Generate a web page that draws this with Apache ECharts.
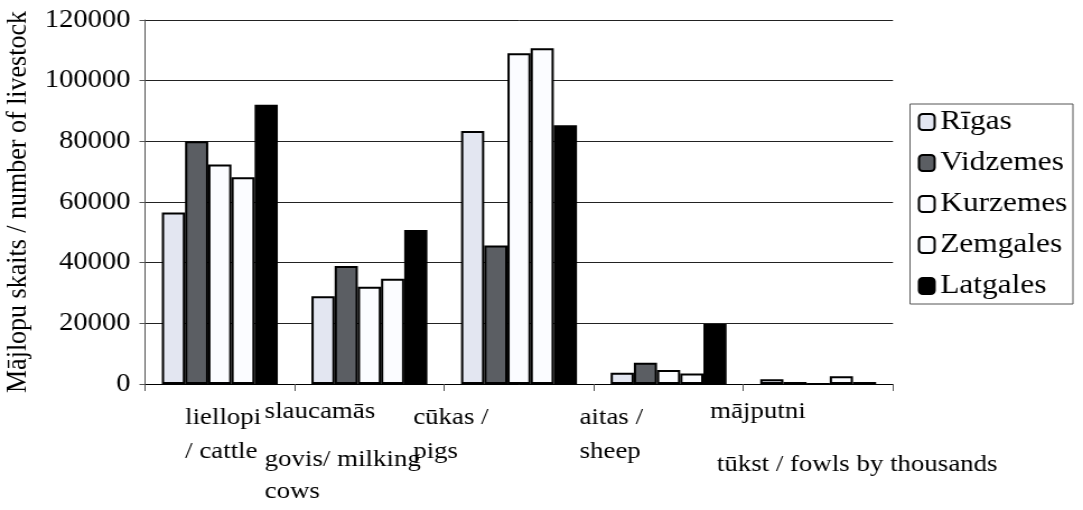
<!DOCTYPE html>
<html>
<head>
<meta charset="utf-8">
<script src="https://cdn.jsdelivr.net/npm/echarts@6/dist/echarts.min.js"></script>
<style>
  html, body { margin: 0; padding: 0; background: #fff; overflow: hidden; }
  /* the reference picture is stretched horizontally by ~12% */
  #chart { width: 967px; height: 510px; transform: scaleX(1.12); transform-origin: 0 0; }
</style>
</head>
<body>
<div id="chart"></div>
<script>
// ---- data ----
const categories = ['liellopi', 'slaucamās', 'cūkas', 'aitas', 'mājputni'];
const categoryLines = [
  ['liellopi', '/ cattle'],
  ['slaucamās', 'govis/ milking', 'cows'],
  ['cūkas /', 'pigs'],
  ['aitas /', 'sheep'],
  ['mājputni', ' tūkst / fowls by thousands']
];
const seriesNames = ['Rīgas', 'Vidzemes', 'Kurzemes', 'Zemgales', 'Latgales'];
const rigas    = [56500, 28900, 83400, 3700, 1550];
const vidzemes = [80000, 38900, 45700, 7000, 660];
const kurzemes = [72400, 32100, 109000, 4600, 0];
const zemgales = [68200, 34700, 110700, 3500, 2540];
const latgales = [92100, 50800, 85300, 19800, 660];
const yTicks = [0, 20000, 40000, 60000, 80000, 100000, 120000];
const yAxisTitle = 'Mājlopu skaits / number of livestock';

const seriesValues = [rigas, vidzemes, kurzemes, zemgales, latgales];
const seriesColors = ['#e3e6f1', '#5b5e63', '#fbfcff', '#fbfcff', '#000000'];

const FONT = 'Liberation Serif';

// rich styles per category (label line layout)
const catStyle = [
  { w: 62,  lh: [64, 4] },
  { w: 187, lh: [52, 44, 20] },
  { w: 189, lh: [64, 4] },
  { w: 159, lh: [64, 4] },
  { w: 193, lh: [52, 54] }
];
const rich = {};
catStyle.forEach((c, i) => {
  c.lh.forEach((h, j) => {
    rich['c' + i + 'l' + j] = {
      width: c.w, align: 'left', lineHeight: h,
      fontFamily: FONT, fontSize: 24, color: '#000'
    };
  });
});

const chart = echarts.init(document.getElementById('chart'), null, { renderer: 'canvas' });
chart.setOption({
  backgroundColor: '#ffffff',
  animation: false,
  textStyle: { fontFamily: FONT, color: '#000' },
  grid: { left: 129.5, right: 169.7, top: 20, bottom: 126, containLabel: false, outerBoundsMode: 'none' },
  legend: {
    orient: 'vertical',
    left: 812.5, top: 104,
    padding: [3, 5, 3, 7],
    itemWidth: 14, itemHeight: 16,
    itemGap: 11,
    borderColor: '#555', borderWidth: 1,
    textStyle: { fontFamily: FONT, fontSize: 28, color: '#000', lineHeight: 30 },
    data: seriesNames
  },
  xAxis: {
    type: 'category',
    data: categories,
    axisLine: { lineStyle: { color: '#000', width: 1 } },
    axisTick: { show: true, length: 7, lineStyle: { color: '#555' } },
    axisLabel: {
      interval: 0,
      margin: 2,
      formatter: function (val, idx) {
        return categoryLines[idx].map((t, j) => '{c' + idx + 'l' + j + '|' + t + '}').join('\n');
      },
      rich: rich
    }
  },
  yAxis: {
    type: 'value',
    min: 0, max: 120000, interval: 20000,
    name: yAxisTitle,
    nameLocation: 'middle',
    nameRotate: 90,
    nameGap: 99,
    nameTextStyle: { fontFamily: FONT, fontSize: 26, color: '#000' },
    axisLine: { show: true, lineStyle: { color: '#555', width: 1 } },
    axisTick: { show: true, length: 5, lineStyle: { color: '#555' } },
    axisLabel: {
      margin: 13, fontFamily: FONT, fontSize: 25.5, color: '#000',
      formatter: function (v) { return yTicks.indexOf(v) >= 0 ? String(v) : ''; }
    },
    splitLine: { show: true, lineStyle: { color: '#222', width: 1 } }
  },
  series: seriesNames.map((name, i) => ({
    name: name,
    type: 'bar',
    data: seriesValues[i],
    barGap: '0%',
    barCategoryGap: '22.5%',
    itemStyle: { color: seriesColors[i], borderColor: '#000', borderWidth: 2 }
  }))
});
</script>
</body>
</html>
